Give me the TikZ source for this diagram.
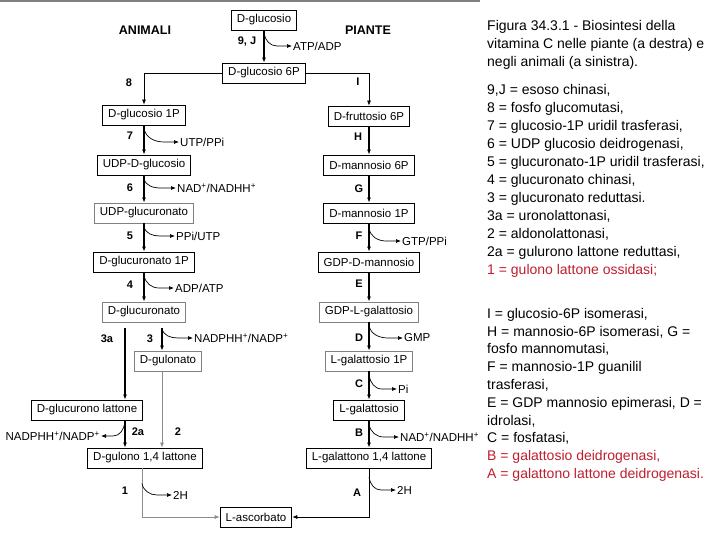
\documentclass[tikz,border=0pt]{standalone}
\usepackage{fontspec}
\setmainfont{Liberation Sans}
\usetikzlibrary{arrows.meta}
\definecolor{vcred}{RGB}{190,30,45}
\definecolor{vcgray}{RGB}{128,128,128}

\begin{document}
\begin{tikzpicture}[x=1pt, y=1pt,
    box/.style={draw=black, line width=0.8pt, fill=white, inner xsep=5.5pt, minimum height=20pt, font=\fontsize{11.5}{13}\selectfont},
    lightbox/.style={box, draw=black!50},
    enz/.style={font=\fontsize{11}{13}\selectfont\bfseries},
    head/.style={font=\fontsize{12.5}{15}\selectfont\bfseries},
    cof/.style={font=\fontsize{11.5}{13}\selectfont, anchor=west, inner sep=1pt},
    legend/.style={font=\fontsize{14}{18}\selectfont, align=left, anchor=north west, inner sep=0pt},
    arr/.style={-{Latex[length=5pt,width=4pt]}, line width=1.1pt},
    lnk/.style={-{Latex[length=5pt,width=4pt]}, line width=0.7pt},
    grayarr/.style={lnk, draw=black!45},
    side/.style={-{Latex[length=5pt,width=4pt]}, line width=0.7pt}
  ]
    \useasboundingbox (0,0) rectangle (720,-540);
    \draw[vcgray, line width=1.5pt] (0,-1) -- (480,-1);

    % titoli
    \node[head] (anim) at (145,-30) {ANIMALI};
    \node[head] (piante) at (368,-30) {PIANTE};

    % tronco comune
    \node[box] (dglc) at (264,-20) {D-glucosio};
    \node[box] (dglc6p) at (264,-73) {D-glucosio 6P};

    % animali
    \node[box] (dglc1p) at (144,-115) {D-glucosio 1P};
    \node[box] (udpglc) at (144,-165) {UDP-D-glucosio};
    \node[lightbox] (udpgla) at (144,-213) {UDP-glucuronato};
    \node[box] (dgla1p) at (144,-262) {D-glucuronato 1P};
    \node[lightbox] (dgla) at (144,-312) {D-glucuronato};
    \node[lightbox] (dgln) at (168,-361) {D-gulonato};
    \node[box] (dglcl) at (87,-410) {D-glucurono lattone};
    \node[box] (dgull) at (145,-458) {D-gulono 1,4 lattone};

    % piante
    \node[box] (dfru6p) at (369,-116) {D-fruttosio 6P};
    \node[box] (dman6p) at (369,-165) {D-mannosio 6P};
    \node[box] (dman1p) at (369,-213) {D-mannosio 1P};
    \node[box] (gdpman) at (369,-262) {GDP-D-mannosio};
    \node[lightbox] (gdpgal) at (369,-312) {GDP-L-galattosio};
    \node[lightbox] (lgal1p) at (369,-361) {L-galattosio 1P};
    \node[box] (lgal) at (369,-410) {L-galattosio};
    \node[box] (lgall) at (369,-458) {L-galattono 1,4 lattone};

    \node[box] (lasc) at (256,-517) {L-ascorbato};

    % enzimi
    \node[enz] (e9j) at (247,-42) {9, J};
    \node[enz] (e8) at (129,-83) {8};
    \node[enz] (eI) at (358,-82) {I};
    \node[enz] (e7) at (130,-136) {7};
    \node[enz] (e6) at (130,-188) {6};
    \node[enz] (e5) at (130,-236) {5};
    \node[enz] (e4) at (130,-285) {4};
    \node[enz] (e3a) at (107,-339) {3a};
    \node[enz] (e3) at (150,-339) {3};
    \node[enz] (e2a) at (138,-432) {2a};
    \node[enz] (e2) at (178,-432) {2};
    \node[enz] (e1) at (125,-491) {1};
    \node[enz] (eH) at (358,-137) {H};
    \node[enz] (eG) at (359,-189) {G};
    \node[enz] (eF) at (359,-236) {F};
    \node[enz] (eE) at (359,-284) {E};
    \node[enz] (eD) at (359,-338) {D};
    \node[enz] (eC) at (359,-384) {C};
    \node[enz] (eB) at (359,-433) {B};
    \node[enz] (eA) at (357,-493) {A};

    % cofattori
    \node[cof] (atpadp) at (292,-46) {ATP/ADP};
    \node[cof] (utpppi) at (179,-142) {UTP/PPi};
    \node[cof] (nad6) at (176,-188) {NAD\textsuperscript{+}/NADHH\textsuperscript{+}};
    \node[cof] (ppiutp) at (175,-236) {PPi/UTP};
    \node[cof] (adpatp) at (174,-288) {ADP/ATP};
    \node[cof] (nadp3) at (193,-338) {NADPHH\textsuperscript{+}/NADP\textsuperscript{+}};
    \node[cof, anchor=east] (nadp2a) at (101,-436) {NADPHH\textsuperscript{+}/NADP\textsuperscript{+}};
    \node[cof] (twoh1) at (172,-495) {2H};
    \node[cof] (gtpppi) at (401,-241) {GTP/PPi};
    \node[cof] (gmp) at (403,-338) {GMP};
    \node[cof] (pi) at (397,-389) {Pi};
    \node[cof] (nadB) at (399,-437) {NAD\textsuperscript{+}/NADHH\textsuperscript{+}};
    \node[cof] (twohA) at (396,-490) {2H};

    % frecce principali
    \draw[arr] (dglc) -- (dglc6p);
    \draw[lnk] (dglc6p.west) -| (dglc1p.north);
    \draw[lnk] (dglc6p.east) -| (dfru6p.north);
    \draw[arr] (dglc1p) -- (udpglc);
    \draw[arr] (udpglc) -- (udpgla);
    \draw[arr] (udpgla) -- (dgla1p);
    \draw[arr] (dgla1p) -- (dgla);
    \coordinate (p3a) at ([xshift=-19pt,yshift=-6pt]dgla.south);
    \coordinate (p3) at ([xshift=18pt,yshift=-6pt]dgla.south);
    \coordinate (p2a) at (p3a |- dglcl.south);
    \draw[arr] (p3a) -- (p3a |- dglcl.north);
    \draw[arr] (p3) -- (p3 |- dgln.north);
    \draw[grayarr] (p3 |- dgln.south) -- (p3 |- dgull.north);
    \draw[arr] (p2a) -- (p3a |- dgull.north);
    \draw[grayarr] ([xshift=-3pt]dgull.south) |- (lasc.west);
    \draw[arr] (dfru6p) -- (dman6p);
    \draw[arr] (dman6p) -- (dman1p);
    \draw[arr] (dman1p) -- (gdpman);
    \draw[arr] (gdpman) -- (gdpgal);
    \draw[arr] (gdpgal) -- (lgal1p);
    \draw[arr] (lgal1p) -- (lgal);
    \draw[arr] (lgal) -- (lgall);
    \draw[lnk] (lgall.south) |- (lasc.east);

    % frecce laterali
    \draw[side] ([yshift=-3pt]dglc.south) to[out=-80,in=180] ([xshift=-15pt]atpadp.west) -- (atpadp.west);
    \draw[side] ([yshift=-3pt]dglc1p.south) to[out=-80,in=180] ([xshift=-15pt]utpppi.west) -- (utpppi.west);
    \draw[side] ([yshift=-3pt]udpglc.south) to[out=-80,in=180] ([xshift=-15pt]nad6.west) -- (nad6.west);
    \draw[side] ([yshift=-3pt]udpgla.south) to[out=-80,in=180] ([xshift=-15pt]ppiutp.west) -- (ppiutp.west);
    \draw[side] ([yshift=-3pt]dgla1p.south) to[out=-80,in=180] ([xshift=-15pt]adpatp.west) -- (adpatp.west);
    \draw[side] (p3) to[out=-80,in=180] ([xshift=-15pt]nadp3.west) -- (nadp3.west);
    \draw[side] ([yshift=-2pt]p2a) to[out=-100,in=0] ([xshift=12pt]nadp2a.east) -- (nadp2a.east);
    \draw[side] ([xshift=-3pt,yshift=-15pt]dgull.south) to[out=-80,in=180] ([xshift=-15pt]twoh1.west) -- (twoh1.west);
    \draw[side] ([yshift=-5pt]dman1p.south) to[out=-80,in=180] ([xshift=-15pt]gtpppi.west) -- (gtpppi.west);
    \draw[side] ([yshift=-3pt]gdpgal.south) to[out=-80,in=180] ([xshift=-15pt]gmp.west) -- (gmp.west);
    \draw[side] ([yshift=-4pt]lgal1p.south) to[out=-80,in=180] ([xshift=-15pt]pi.west) -- (pi.west);
    \draw[side] ([yshift=-4pt]lgal.south) to[out=-80,in=180] ([xshift=-15pt]nadB.west) -- (nadB.west);
    \draw[side] ([yshift=-9pt]lgall.south) to[out=-80,in=180] ([xshift=-15pt]twohA.west) -- (twohA.west);

    % legenda
    \node[legend] (capt) at (487,-20) {Figura 34.3.1 - Biosintesi della\\vitamina C nelle piante (a destra) e\\negli animali (a sinistra).};
    \node[legend] (leganim) at (487,-84) {9,J = esoso chinasi,\\8 = fosfo glucomutasi,\\7 = glucosio-1P uridil trasferasi,\\6 = UDP glucosio deidrogenasi,\\5 = glucuronato-1P uridil trasferasi,\\4 = glucuronato chinasi,\\3 = glucuronato reduttasi.\\3a = uronolattonasi,\\2 = aldonolattonasi,\\2a = gulurono lattone reduttasi,\\\textcolor{vcred}{1 = gulono lattone ossidasi;}};
    \node[legend, font=\fontsize{14}{17.8}\selectfont] (legpiante) at (487,-308) {I = glucosio-6P isomerasi,\\H = mannosio-6P isomerasi, G =\\fosfo mannomutasi,\\F = mannosio-1P guanilil\\trasferasi,\\E = GDP mannosio epimerasi, D =\\idrolasi,\\C = fosfatasi,\\\textcolor{vcred}{B = galattosio deidrogenasi,}\\\textcolor{vcred}{A = galattono lattone deidrogenasi.}};
  \end{tikzpicture}
\end{document}
